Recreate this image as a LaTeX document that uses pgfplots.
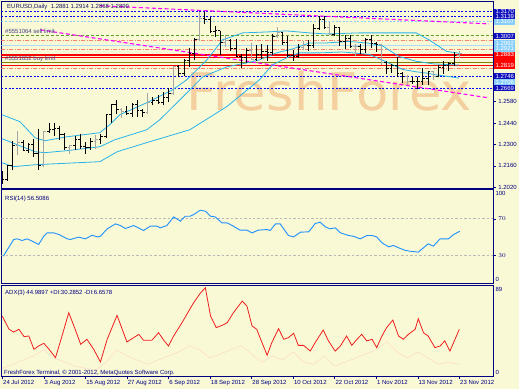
\documentclass[border=0pt]{standalone}
\usepackage{pgfplots}
\usepackage{pgfplotstable}
\pgfplotsset{compat=1.18}
\usepackage{fontspec}
\setmainfont{Liberation Sans}
\newfontfamily\wmfont{DejaVu Sans}
\definecolor{bg}{RGB}{250,249,214}
\definecolor{navyf}{RGB}{0,0,128}
\definecolor{txt}{RGB}{20,20,100}
\definecolor{mtblue}{RGB}{0,0,255}
\definecolor{boxblue}{RGB}{16,16,190}
\definecolor{lsb}{RGB}{135,206,250}
\definecolor{cyanl}{RGB}{40,180,235}
\definecolor{salm}{RGB}{250,128,114}
\definecolor{oliv}{RGB}{128,128,0}
\definecolor{grn}{RGB}{90,160,40}
\definecolor{mag}{RGB}{255,0,255}
\definecolor{wm}{RGB}{244,208,160}
\definecolor{bargray}{RGB}{165,165,165}
\definecolor{rsiblue}{RGB}{30,144,255}
\definecolor{adxred}{RGB}{240,30,30}
\definecolor{dipink}{RGB}{250,224,204}

% bars drawn in grey
\pgfplotstableread{
i o h l c
3 1.2290 1.2390 1.2228 1.2316
8 1.2162 1.2390 1.2150 1.2386
13 1.2283 1.2295 1.2240 1.2290
18 1.2320 1.2364 1.2272 1.2330
23 1.2530 1.2537 1.2475 1.2515
28 1.2508 1.2636 1.2500 1.2575
33 1.2632 1.2816 1.2625 1.2808
38 1.2985 1.3170 1.2980 1.3125
43 1.2965 1.3018 1.2940 1.2980
48 1.2915 1.2965 1.2855 1.2860
53 1.3005 1.3070 1.2995 1.3035
58 1.2935 1.2980 1.2920 1.2950
63 1.3065 1.3100 1.3020 1.3020
68 1.2940 1.2960 1.2880 1.2940
73 1.2955 1.2960 1.2820 1.2835
78 1.2745 1.2757 1.2690 1.2710
83 1.2775 1.2778 1.2720 1.2745
88 1.2881 1.2914 1.2868 1.2899
}\gbars
% bars drawn in black
\pgfplotstableread{
i o h l c
0 1.2118 1.2125 1.2042 1.2069
1 1.2069 1.2165 1.2062 1.2163
2 1.2163 1.2325 1.2130 1.2290
4 1.2316 1.2326 1.2254 1.2260
5 1.2260 1.2310 1.2245 1.2300
6 1.2300 1.2336 1.2220 1.2240
7 1.2240 1.2404 1.2133 1.2162
9 1.2386 1.2443 1.2372 1.2400
10 1.2400 1.2443 1.2356 1.2403
11 1.2403 1.2419 1.2330 1.2367
12 1.2367 1.2376 1.2264 1.2283
14 1.2290 1.2352 1.2262 1.2333
15 1.2333 1.2369 1.2267 1.2285
16 1.2285 1.2314 1.2240 1.2280
17 1.2280 1.2340 1.2262 1.2320
19 1.2330 1.2368 1.2300 1.2350
20 1.2350 1.2500 1.2345 1.2495
21 1.2495 1.2568 1.2440 1.2560
22 1.2560 1.2590 1.2500 1.2530
24 1.2515 1.2555 1.2495 1.2500
25 1.2500 1.2572 1.2477 1.2565
26 1.2565 1.2590 1.2482 1.2520
27 1.2520 1.2530 1.2480 1.2508
29 1.2575 1.2608 1.2558 1.2585
30 1.2585 1.2623 1.2565 1.2575
31 1.2575 1.2641 1.2560 1.2605
32 1.2605 1.2669 1.2580 1.2632
34 1.2808 1.2820 1.2740 1.2763
35 1.2763 1.2862 1.2749 1.2850
36 1.2850 1.2934 1.2805 1.2895
37 1.2895 1.3000 1.2855 1.2985
39 1.3125 1.3170 1.3091 1.3120
40 1.3120 1.3136 1.3030 1.3040
41 1.3040 1.3078 1.3003 1.3045
42 1.3045 1.3045 1.2883 1.2965
44 1.2980 1.2990 1.2910 1.2930
45 1.2930 1.2988 1.2870 1.2875
46 1.2875 1.2890 1.2802 1.2870
47 1.2870 1.2934 1.2836 1.2915
49 1.2860 1.2950 1.2850 1.2890
50 1.2890 1.2955 1.2860 1.2910
51 1.2910 1.2950 1.2850 1.2900
52 1.2900 1.3025 1.2886 1.3005
54 1.3035 1.3037 1.2950 1.2970
55 1.2970 1.3010 1.2875 1.2880
56 1.2880 1.2917 1.2845 1.2877
57 1.2877 1.2955 1.2865 1.2935
59 1.2950 1.2985 1.2910 1.2950
60 1.2950 1.3090 1.2930 1.3060
61 1.3060 1.3140 1.3050 1.3120
62 1.3120 1.3140 1.3055 1.3065
64 1.3020 1.3085 1.3010 1.3065
65 1.3065 1.3070 1.2942 1.2975
66 1.2975 1.3020 1.2925 1.2995
67 1.2995 1.3015 1.2930 1.2940
69 1.2940 1.2958 1.2890 1.2920
70 1.2920 1.3000 1.2902 1.2990
71 1.2990 1.3015 1.2935 1.2960
72 1.2960 1.2970 1.2905 1.2955
74 1.2835 1.2850 1.2762 1.2795
75 1.2795 1.2830 1.2770 1.2815
76 1.2815 1.2875 1.2743 1.2765
77 1.2765 1.2775 1.2705 1.2745
79 1.2710 1.2740 1.2697 1.2710
80 1.2710 1.2745 1.2660 1.2710
81 1.2710 1.2800 1.2690 1.2735
82 1.2735 1.2782 1.2690 1.2775
84 1.2745 1.2820 1.2740 1.2805
85 1.2805 1.2845 1.2760 1.2815
86 1.2815 1.2840 1.2784 1.2830
87 1.2830 1.2905 1.2812 1.2885
}\kbars

\tikzset{box/.style={anchor=west, font=\fontsize{6}{6}\selectfont, text=white, inner xsep=1.3pt, inner ysep=0.9pt, xshift=0.8pt}}
\pgfplotsset{
  mt/.style={scale only axis, width=492.8pt, xmin=-0.15, xmax=94.55,
    axis line style={navyf, line width=0.8pt}, xtick=\empty,
    yticklabel pos=right, ytick pos=right, tick align=outside,
    tick style={navyf, line width=0.5pt}, major tick length=2.5pt,
    yticklabel style={font=\fontsize{6}{7}\selectfont, text=navyf, xshift=-1pt},
    clip mode=individual},
  hl/.style={line width=0.8pt, forget plot},
  ohlc/.style={draw=none, mark=none, forget plot, error bars/error mark=none, error bars/error bar style={draw=#1, line width=0.95pt}},
}

\begin{document}
\begin{tikzpicture}[x=1pt,y=1pt]
\fill[bg] (0,0) rectangle (520,390);

% ---------------- main price panel ----------------
\begin{axis}[mt, at={(1.5pt,201.7pt)}, anchor=south west, height=187.3pt,
  ymin=1.2015, ymax=1.3240,
  ytick={1.2020,1.2160,1.2300,1.2440,1.2580},
  yticklabel style={/pgf/number format/.cd, fixed, fixed zerofill, precision=4, assume math mode=true}]
\node[text=wm, font=\wmfont\fontsize{52}{52}\selectfont, xscale=1.02] at (axis cs:63,1.2651) {FreshForex};
% horizontal levels
\addplot[hl, mtblue, dash pattern=on 2pt off 1.6pt] coordinates {(-0.15,1.3170) (94.55,1.3170)};
\addplot[hl, mtblue, dash pattern=on 2pt off 1.6pt] coordinates {(-0.15,1.3139) (94.55,1.3139)};
\addplot[hl, lsb, dash pattern=on 2pt off 1.6pt] coordinates {(-0.15,1.3105) (94.55,1.3105)};
\addplot[hl, grn, dash pattern=on 3pt off 2pt] coordinates {(-0.15,1.3012) (94.55,1.3012)};
\addplot[hl, salm, dash pattern=on 4pt off 1.5pt on 1pt off 1.5pt] coordinates {(-0.15,1.2985) (94.55,1.2985)};
\addplot[hl, lsb!70, line width=0.6pt] coordinates {(-0.15,1.2952) (94.55,1.2952)};
\addplot[hl, salm, dash pattern=on 4pt off 1.5pt on 1pt off 1.5pt] coordinates {(-0.15,1.2924) (94.55,1.2924)};
\addplot[hl, red, line width=1.4pt] coordinates {(-0.15,1.2887) (94.55,1.2887)};
\addplot[hl, red, line width=0.6pt] coordinates {(-0.15,1.2870) (94.55,1.2870)};
\addplot[hl, oliv, line width=1.0pt] coordinates {(-0.15,1.2838) (94.55,1.2838)};
\addplot[hl, red, line width=0.6pt] coordinates {(-0.15,1.2817) (94.55,1.2817)};
\addplot[hl, salm, dash pattern=on 4pt off 1.5pt on 1pt off 1.5pt] coordinates {(-0.15,1.2800) (94.55,1.2800)};
\addplot[hl, mtblue, dash pattern=on 2pt off 1.6pt] coordinates {(-0.15,1.2746) (94.55,1.2746)};
\addplot[hl, mtblue, dash pattern=on 2pt off 1.6pt] coordinates {(-0.15,1.2669) (94.55,1.2669)};
% magenta channel
\addplot[hl, mag, line width=1.1pt, dash pattern=on 4pt off 2.5pt] coordinates {(18.8,1.3209) (93.7,1.3090)};
\addplot[hl, mag, line width=1.1pt, dash pattern=on 4pt off 2.5pt] coordinates {(7.3,1.3051) (93.7,1.2605)};
% cyan bands
\addplot[hl, cyanl, line width=0.8pt] coordinates {(0,1.2494)(3.4,1.2449)(6.3,1.2344)(8.2,1.2324)(12.4,1.2350)(18.8,1.2377)(20.7,1.2429)(22.6,1.2494)(27.8,1.2573)(32.8,1.2658)(35.5,1.2723)(39.4,1.2854)(42.4,1.2985)(46.3,1.3031)(50.9,1.3037)(54.7,1.3044)(59.1,1.3031)(62.4,1.3024)(68.7,1.3031)(79.7,1.3031)(82.2,1.2985)(85.5,1.2910)(87.9,1.2898)};
\addplot[hl, cyanl, line width=0.8pt] coordinates {(0,1.2337)(6.3,1.2252)(8.2,1.2246)(12.4,1.2259)(18.8,1.2285)(21.7,1.2331)(27.8,1.2396)(30.3,1.2461)(34.2,1.2592)(38.6,1.2743)(43.2,1.2808)(47.0,1.2834)(49.5,1.2854)(52.8,1.2900)(55.9,1.2926)(59.1,1.2965)(62.4,1.2965)(66.8,1.2975)(70.7,1.2963)(73.2,1.2946)(76.4,1.2876)(79.7,1.2845)(83.0,1.2828)(87.9,1.2820)};
\addplot[hl, cyanl, line width=0.8pt] coordinates {(0,1.2180)(2.1,1.2154)(6.3,1.2167)(18.8,1.2187)(22.1,1.2252)(28.4,1.2318)(36.1,1.2396)(43.2,1.2547)(49.5,1.2723)(52.0,1.2821)(54.7,1.2867)(57.2,1.2900)(61.1,1.2900)(65.5,1.2906)(70.7,1.2890)(74.0,1.2840)(77.0,1.2792)(79.7,1.2776)(81.6,1.2768)(83.5,1.2756)(86.0,1.2745)(87.9,1.2735)};
% OHLC bars
\addplot[ohlc=bargray, error bars/.cd, y dir=minus, y explicit] table[x=i, y=h, y error expr=\thisrow{h}-\thisrow{l}] {\gbars};
\addplot[ohlc=bargray, error bars/.cd, x dir=minus, x fixed=0.42] table[x=i, y=o] {\gbars};
\addplot[ohlc=bargray, error bars/.cd, x dir=plus, x fixed=0.42] table[x=i, y=c] {\gbars};
\addplot[ohlc=black, error bars/.cd, y dir=minus, y explicit] table[x=i, y=h, y error expr=\thisrow{h}-\thisrow{l}] {\kbars};
\addplot[ohlc=black, error bars/.cd, x dir=minus, x fixed=0.42] table[x=i, y=o] {\kbars};
\addplot[ohlc=black, error bars/.cd, x dir=plus, x fixed=0.42] table[x=i, y=c] {\kbars};
% right labels
\node[box, fill=boxblue] at (axis cs:94.55,1.3170) {1.3170};
\node[box, fill=boxblue] at (axis cs:94.55,1.3139) {1.3139};
\node[box, fill=lsb] at (axis cs:94.55,1.3105) {1.3107};
\node[box, fill=boxblue] at (axis cs:94.55,1.3010) {1.3007};
\node[box, fill=lsb] at (axis cs:94.55,1.2962) {1.2962};
\node[box, fill=lsb] at (axis cs:94.55,1.2926) {1.2921};
\node[box, fill=red, minimum height=17pt, text=red] at (axis cs:94.55,1.2853) {1.2883};
\node[box, fill=red] at (axis cs:94.55,1.2887) {1.2883};
\node[box, fill=red] at (axis cs:94.55,1.2819) {1.2819};
\node[box, fill=lsb] at (axis cs:94.55,1.2708) {1.2706};
\node[box, fill=boxblue] at (axis cs:94.55,1.2746) {1.2746};
\node[box, fill=boxblue] at (axis cs:94.55,1.2669) {1.2669};
\end{axis}

% ---------------- RSI panel ----------------
\begin{axis}[mt, at={(1.5pt,106pt)}, anchor=south west, height=94pt,
  ymin=0, ymax=101.6, ytick={30,70}]
\addplot[hl, gray!55, line width=0.6pt, dash pattern=on 2.5pt off 2pt] coordinates {(-0.15,70) (94.55,70)};
\addplot[hl, gray!55, line width=0.6pt, dash pattern=on 2.5pt off 2pt] coordinates {(-0.15,30) (94.55,30)};
\addplot[hl, rsiblue, line width=0.9pt] coordinates {(0.2,29.5)(2.2,47.6)(2.9,48.3)(3.8,46.5)(4.8,48.3)(5.8,45.7)(7.0,42.2)(8.0,51.2)(8.65,54.8)(9.9,54.8)(10.9,53.0)(12.5,48.3)(13.1,47.6)(14.7,50.1)(16.0,48.3)(17.3,52.2)(18.3,50.4)(18.9,51.1)(20.2,59.1)(21.8,64.5)(22.75,62.7)(23.7,59.5)(25.3,62.7)(26.6,59.1)(27.2,57.3)(28.5,62.0)(29.8,62.0)(30.4,60.2)(31.7,62.7)(33.0,72.1)(34.3,67.4)(35.25,72.8)(36.2,72.8)(36.85,74.6)(38.1,79.3)(39.1,78.2)(40.1,72.8)(41.0,72.1)(42.3,65.6)(43.3,65.6)(44.5,62.0)(45.8,57.7)(47.1,57.7)(48.1,54.8)(49.3,57.7)(51.0,58.4)(51.6,57.3)(52.6,64.5)(53.5,64.5)(55.1,51.9)(56.1,50.4)(57.4,55.5)(59.0,55.9)(60.25,64.9)(61.2,66.3)(62.2,61.3)(63.1,59.1)(64.1,60.2)(65.1,54.8)(66.7,51.9)(67.6,51.1)(68.9,48.3)(70.2,51.9)(71.2,51.9)(72.1,50.4)(73.1,44.0)(74.4,39.6)(75.3,41.1)(76.3,38.6)(77.5,36.0)(78.5,34.9)(80.1,33.9)(82.0,42.9)(83.0,40.4)(84.3,48.3)(85.9,48.3)(86.9,53.0)(88.1,56.5)};
\node[anchor=north west, font=\fontsize{6}{7}\selectfont, text=navyf, inner sep=0.5pt, xshift=1.5pt, yshift=-1pt] at (rel axis cs:1,1) {100};
\node[anchor=south west, font=\fontsize{6}{7}\selectfont, text=navyf, inner sep=0.5pt, xshift=1.5pt, yshift=1pt] at (rel axis cs:1,0) {0};
\end{axis}

% ---------------- ADX panel ----------------
\begin{axis}[mt, at={(1.5pt,12.7pt)}, anchor=south west, height=91.8pt,
  ymin=0, ymax=89, ytick=\empty,
  xtick={0,8,...,88}, xtick pos=bottom,
  xticklabels={24 Jul 2012,3 Aug 2012,15 Aug 2012,27 Aug 2012,6 Sep 2012,18 Sep 2012,28 Sep 2012,10 Oct 2012,22 Oct 2012,1 Nov 2012,13 Nov 2012,23 Nov 2012},
  xticklabel style={anchor=north west, font=\fontsize{6}{7}\selectfont, text=navyf, inner sep=0.5pt, xshift=0.2pt, yshift=-0.6pt}]
\addplot[hl, dipink, line width=0.7pt] coordinates {(0,8)(2,12)(4,16)(6,20)(8,26)(10,18)(12,14)(14,10)(16,8)(18,6)(20,14)(22,26)(24,20)(26,16)(28,12)(30,16)(32,20)(34,24)(36,30)(38,26)(40,18)(42,22)(44,26)(46,30)(48,22)(50,14)(52,20)(54,16)(56,24)(58,14)(60,12)(62,20)(64,10)(66,14)(68,18)(70,22)(72,26)(74,34)(76,24)(78,18)(80,24)(82,18)(84,12)(86,14)(88,12)};
\addplot[hl, adxred, line width=0.8pt] coordinates {(0,58.8)(1.3,45.9)(2.2,43.2)(3.2,45.9)(4.2,38.8)(5.1,39.4)(6.1,26.5)(7.0,29.7)(8.0,32.3)(9.0,26.5)(10.25,18.4)(11.5,39.4)(12.8,62.0)(13.8,49.1)(15.1,31.3)(16.3,36.2)(17.6,26.5)(18.9,14.2)(20.2,36.2)(22.1,59.4)(23.1,45.9)(24.0,33.6)(25.3,37.8)(26.3,41.0)(27.2,35.2)(28.8,35.2)(30.1,42.6)(31.1,35.2)(32.0,29.7)(33.0,39.4)(34.6,52.3)(35.9,63.6)(36.85,71.7)(38.1,80.8)(39.1,86.3)(40.1,58.8)(41.2,47.5)(42.3,49.7)(43.3,52.3)(44.5,62.0)(46.2,73.3)(47.1,68.5)(48.1,49.1)(49.0,45.9)(50.0,33.0)(51.0,20.7)(51.9,33.0)(53.2,46.5)(54.2,36.2)(55.1,37.8)(56.1,42.0)(57.0,30.3)(58.0,30.3)(59.3,24.8)(60.25,33.0)(61.8,45.2)(62.8,34.6)(64.1,24.8)(65.1,29.7)(66.3,39.4)(67.3,30.3)(68.3,36.2)(69.2,41.0)(70.2,34.6)(71.2,36.2)(72.1,28.1)(73.1,39.4)(74.0,47.5)(75.2,54.9)(76.3,39.4)(77.2,36.2)(78.2,41.0)(79.5,45.9)(80.1,56.2)(81.1,42.6)(82.0,39.4)(83.3,28.1)(84.3,29.7)(85.2,34.6)(86.2,24.8)(88.0,45.9)};
\node[anchor=north west, font=\fontsize{6}{7}\selectfont, text=navyf, inner sep=0.5pt, xshift=1.5pt, yshift=-1.5pt] at (rel axis cs:1,1) {89};
\node[anchor=south west, font=\fontsize{6}{7}\selectfont, text=navyf, inner sep=0.5pt, xshift=1.5pt, yshift=1.5pt] at (rel axis cs:1,0) {0};
\end{axis}

% panel titles
\node[anchor=west, font=\fontsize{6}{7}\selectfont, text=txt, inner sep=0pt] at (7,383.3) {EURUSD,Daily\ \ 1.2881 1.2914 1.2868 1.2899};
\node[anchor=west, font=\fontsize{6}{7}\selectfont, text=txt!80, inner sep=0pt] at (5,358.3) {\#5551064 sell limit};
\node[anchor=west, font=\fontsize{6}{7}\selectfont, text=txt!80, inner sep=0pt] at (5,331) {\#5551652 buy limit};
\node[anchor=west, font=\fontsize{6}{7}\selectfont, text=navyf, inner sep=0pt] at (5,190.7) {RSI(14) 56.5086};
\node[anchor=west, font=\fontsize{6}{7}\selectfont, text=navyf, inner sep=0pt] at (5,96.7) {ADX(3) 44.9897 +DI:30.2852 -DI:6.6578};
\node[anchor=west, font=\fontsize{6}{7}\selectfont, text=navyf, inner sep=0pt] at (4,16.7) {FreshForex Terminal, © 2001-2012, MetaQuotes Software Corp.};
\end{tikzpicture}
\end{document}
